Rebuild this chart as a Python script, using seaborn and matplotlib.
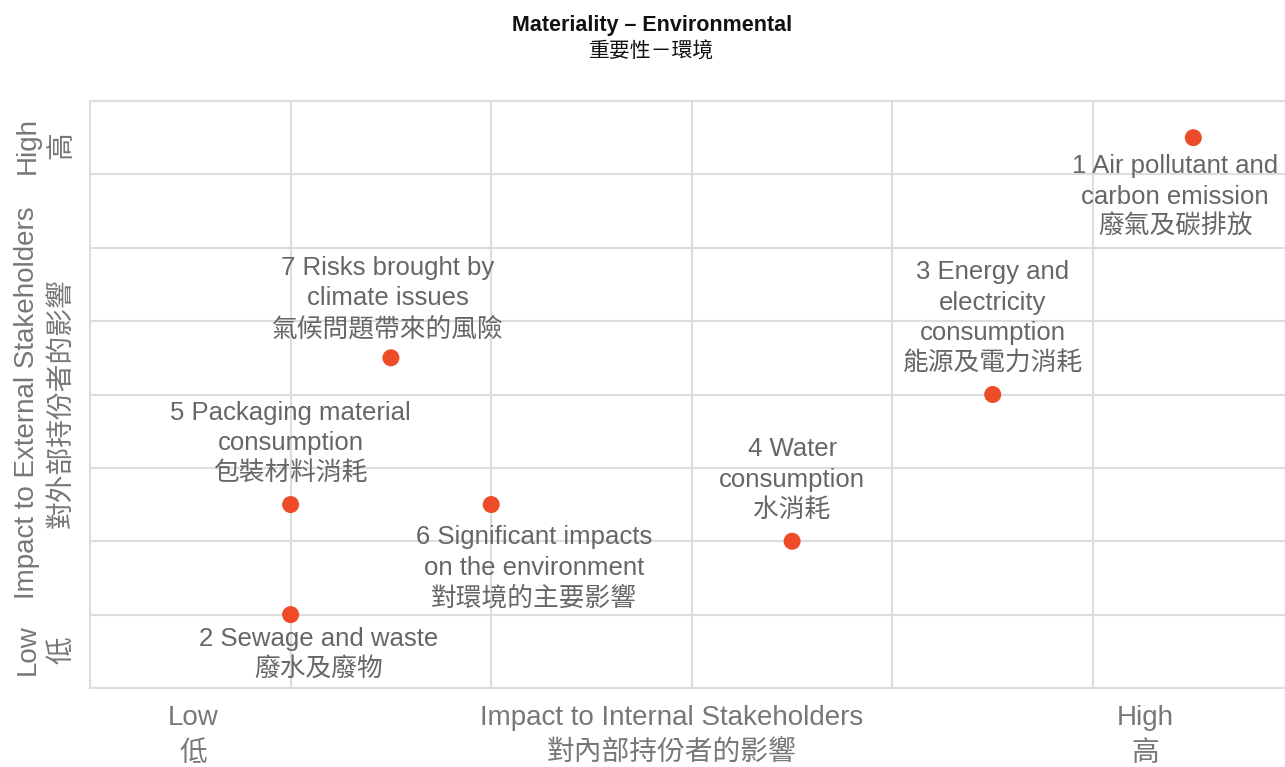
import seaborn as sns
import matplotlib.pyplot as plt
import pandas as pd

# data
issue_no = [1, 2, 3, 4, 5, 6, 7]
issue_en = ["Air pollutant and\ncarbon emission", "Sewage and waste",
            "Energy and\nelectricity\nconsumption", "Water\nconsumption",
            "Packaging material\nconsumption", "Significant impacts\non the environment",
            "Risks brought by\nclimate issues"]
issue_zh = ["廢氣及碳排放", "廢水及廢物", "能源及電力消耗", "水消耗",
            "包裝材料消耗", "對環境的主要影響", "氣候問題帶來的風險"]
internal = [5.5, 1.0, 4.5, 3.5, 1.0, 2.0, 1.5]
external = [7.5, 1.0, 4.0, 2.0, 2.5, 2.5, 4.5]

df = pd.DataFrame({"no": issue_no, "en": issue_en, "zh": issue_zh,
                   "internal": internal, "external": external})

sns.set_style("whitegrid")
plt.rcParams['font.family'] = ['Liberation Sans', 'Noto Sans CJK TC']

fig = plt.figure(figsize=(12.85, 7.67), dpi=100)
ax = fig.add_axes([90/1285, 1-688/767, 6*200.6/1285, 587/767])

sns.scatterplot(data=df, x="internal", y="external", color="#EE4B28",
                s=150, edgecolor="none", ax=ax, zorder=3)

ax.set_xlim(0, 6)
ax.set_ylim(0, 8)
ax.set_xticks(range(0, 7))
ax.set_yticks(range(0, 9))
ax.set_xticklabels([])
ax.set_yticklabels([])
ax.tick_params(length=0)
ax.grid(color="#dddddd", linewidth=1.5)
for sp in ax.spines.values():
    sp.set_color("#dddddd")
    sp.set_linewidth(1.5)
ax.set_xlabel("")
ax.set_ylabel("")

# label placement: (dx, dy) offset in points, above or below
place = {1: (-13, -12, "top"), 2: (20, -9, "top"), 3: (0, 14, "bottom"),
         4: (0, 14, "bottom"), 5: (0, 14, "bottom"), 6: (31, -15, "top"),
         7: (-2, 12, "bottom")}
for _, r in df.iterrows():
    dx, dy, va = place[r["no"]]
    ax.annotate(f"{r['no']} {r['en']}\n{r['zh']}", (r["internal"], r["external"]),
                xytext=(dx, dy), textcoords="offset points", ha="center", va=va,
                fontsize=18.5, color="#666666", linespacing=1.33)

fig.text(652/1285, 1-26/767, "Materiality – Environmental", ha="center", va="center",
         fontsize=15.5, fontweight="bold", color="#111111")
fig.text(652/1285, 1-52/767, "重要性－環境", ha="center", va="center",
         fontsize=15, color="#111111")

ax_col = "#777777"
for x, t in [(193, "Low\n低"), (672, "Impact to Internal Stakeholders\n對內部持份者的影響"),
             (1145, "High\n高")]:
    fig.text(x/1285, 1-736/767, t, ha="center", va="center", fontsize=20,
             color=ax_col, linespacing=1.5)
for y, t in [(145, "High\n高"), (403, "Impact to External Stakeholders\n對外部持份者的影響"),
             (650, "Low\n低")]:
    fig.text(45/1285, 1-y/767, t, ha="center", va="center", rotation=90, fontsize=20,
             color=ax_col, linespacing=1.45)

fig.savefig("out.png", dpi=100)
